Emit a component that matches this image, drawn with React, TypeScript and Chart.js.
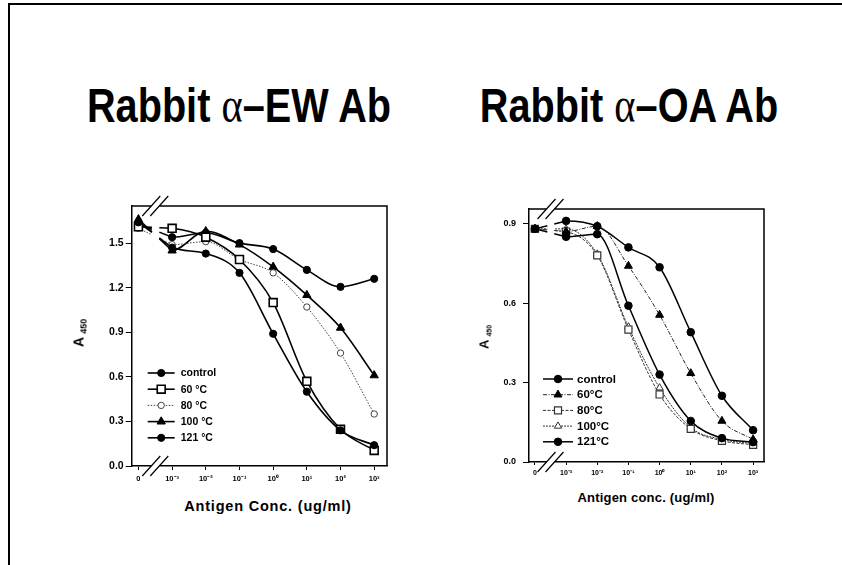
import React, { useEffect, useRef } from "react";
import { Chart, registerables } from "chart.js";
Chart.register(...registerables);

// ---------- data ----------
const xPositions = [0, 1, 2, 3, 4, 5, 6, 7];
const xTickLabels = ["0", "10⁻³", "10⁻²", "10⁻¹", "10⁰", "10¹", "10²", "10³"];

const ewNames = ["control", "60 °C", "80 °C", "100 °C", "121 °C"];
const ewControl = [1.64, 1.47, 1.43, 1.3, 0.89, 0.5, 0.24, 0.14];
const ew60 = [1.61, 1.6, 1.54, 1.39, 1.1, 0.57, 0.247, 0.105];
const ew80 = [1.6, 1.49, 1.51, 1.39, 1.3, 1.07, 0.76, 0.35];
const ew100 = [1.66, 1.45, 1.58, 1.49, 1.34, 1.15, 0.93, 0.61];
const ew121 = [1.63, 1.54, 1.57, 1.5, 1.46, 1.32, 1.206, 1.26];
const ewYTicks = [0, 0.3, 0.6, 0.9, 1.2, 1.5];

const oaNames = ["control", "60°C", "80°C", "100°C", "121°C"];
const oaControl = [0.88, 0.85, 0.86, 0.59, 0.33, 0.155, 0.09, 0.075];
const oa60 = [0.88, 0.87, 0.89, 0.74, 0.555, 0.335, 0.155, 0.085];
const oa80 = [0.88, 0.87, 0.78, 0.5, 0.255, 0.125, 0.08, 0.065];
const oa100 = [0.88, 0.88, 0.785, 0.51, 0.28, 0.13, 0.085, 0.07];
const oa121 = [0.88, 0.91, 0.89, 0.81, 0.735, 0.49, 0.25, 0.12];
const oaYTicks = [0, 0.3, 0.6, 0.9];

// ---------- styles ----------
type S = { ps: string; r: number; fill: string; stroke: string; lw: number; dash: number[]; color: string; plw: number };
const ewStyles: S[] = [
  { ps: "circle", r: 3.6, fill: "#000", stroke: "#000", lw: 1.6, dash: [], color: "#000", plw: 1 },
  { ps: "rect", r: 5.6, fill: "#fff", stroke: "#000", lw: 1.6, dash: [], color: "#000", plw: 1.6 },
  { ps: "circle", r: 3.2, fill: "#fff", stroke: "#444", lw: 1, dash: [1.5, 1.5], color: "#444", plw: 1 },
  { ps: "triangle", r: 4.8, fill: "#000", stroke: "#000", lw: 1.6, dash: [], color: "#000", plw: 1 },
  { ps: "circle", r: 3.6, fill: "#000", stroke: "#000", lw: 1.6, dash: [], color: "#000", plw: 1 },
];
const oaStyles: S[] = [
  { ps: "circle", r: 3.8, fill: "#000", stroke: "#000", lw: 1.5, dash: [], color: "#000", plw: 1 },
  { ps: "triangle", r: 4.6, fill: "#000", stroke: "#000", lw: 1, dash: [4, 1.5, 1, 1.5], color: "#222", plw: 1 },
  { ps: "rect", r: 5, fill: "#fff", stroke: "#333", lw: 1, dash: [3, 1.5], color: "#333", plw: 1.2 },
  { ps: "triangle", r: 4.2, fill: "#fff", stroke: "#333", lw: 1, dash: [2, 1], color: "#333", plw: 1 },
  { ps: "circle", r: 3.8, fill: "#000", stroke: "#000", lw: 1.5, dash: [], color: "#000", plw: 1 },
];

function drawMarker(ctx: CanvasRenderingContext2D, s: S, x: number, y: number) {
  ctx.save();
  ctx.setLineDash([]);
  ctx.beginPath();
  if (s.ps === "circle") ctx.arc(x, y, s.r, 0, Math.PI * 2);
  else if (s.ps === "rect") {
    const h = s.r * Math.SQRT1_2;
    ctx.rect(x - h, y - h, 2 * h, 2 * h);
  } else {
    let rad = 0;
    ctx.moveTo(x + Math.sin(rad) * s.r, y - Math.cos(rad) * s.r);
    rad += (2 * Math.PI) / 3;
    ctx.lineTo(x + Math.sin(rad) * s.r, y - Math.cos(rad) * s.r);
    rad += (2 * Math.PI) / 3;
    ctx.lineTo(x + Math.sin(rad) * s.r, y - Math.cos(rad) * s.r);
    ctx.closePath();
  }
  ctx.fillStyle = s.fill;
  ctx.fill();
  ctx.lineWidth = s.plw;
  ctx.strokeStyle = s.stroke;
  ctx.stroke();
  ctx.restore();
}

type Cfg = {
  series: number[][];
  names: string[];
  styles: S[];
  yMax: number;
  yTicks: number[];
  xMin: number;
  xMax: number;
  padTop: number;
  padRight: number;
  yAxisW: number;
  xAxisH: number;
  yFont: any;
  xFont: any;
  yTickLen: number;
  yPad: number;
  xTickLen: number;
  xPad: number;
  legend: { dx: number; dy: number; row: number; len: number; gap: number; font: string };
};

const makePlugin = (cfg: Cfg) => ({
  id: "decor",
  beforeDatasetsDraw(chart: any) {
    const ctx: CanvasRenderingContext2D = chart.ctx;
    chart.data.datasets.forEach((ds: any, i: number) => {
      const meta = chart.getDatasetMeta(i);
      const p0 = meta.data[0];
      const p1 = meta.data[1];
      const s = cfg.styles[i];
      ctx.save();
      ctx.strokeStyle = s.color;
      ctx.lineWidth = s.lw;
      ctx.setLineDash(s.dash);
      ctx.beginPath();
      ctx.moveTo(p0.x, p0.y);
      ctx.lineTo(p0.x + (p1.x - p0.x) * 0.4, p0.y + (p1.y - p0.y) * 0.4);
      ctx.moveTo(p1.x, p1.y);
      ctx.lineTo(p1.x - (p1.x - p0.x) * 0.38, p1.y - (p1.y - p0.y) * 0.38);
      ctx.stroke();
      ctx.restore();
    });
  },
  afterDraw(chart: any) {
    const ctx: CanvasRenderingContext2D = chart.ctx;
    const a = chart.chartArea;
    ctx.save();
    ctx.strokeStyle = "#000";
    ctx.lineWidth = 1.5;
    ctx.setLineDash([]);
    ctx.beginPath();
    ctx.moveTo(a.left, a.top);
    ctx.lineTo(a.right, a.top);
    ctx.lineTo(a.right, a.bottom);
    ctx.stroke();
    // axis breaks
    const px = chart.scales.x.getPixelForValue(0.5);
    [a.top, a.bottom].forEach((y: number) => {
      ctx.fillStyle = "#fff";
      ctx.fillRect(px - 4, y - 2, 8, 4);
      ctx.lineWidth = 1.2;
      ctx.beginPath();
      [-4, 4].forEach((d) => {
        ctx.moveTo(px + d - 9, y + 10);
        ctx.lineTo(px + d + 9, y - 10);
      });
      ctx.stroke();
    });
    // legend
    const L = cfg.legend;
    ctx.font = L.font;
    ctx.textBaseline = "middle";
    ctx.textAlign = "left";
    cfg.styles.forEach((s, i) => {
      const y = a.top + L.dy + i * L.row;
      const x0 = a.left + L.dx;
      ctx.save();
      ctx.strokeStyle = s.color;
      ctx.lineWidth = s.lw;
      ctx.setLineDash(s.dash);
      ctx.beginPath();
      ctx.moveTo(x0, y);
      ctx.lineTo(x0 + L.len, y);
      ctx.stroke();
      ctx.restore();
      drawMarker(ctx, s, x0 + L.len / 2, y);
      ctx.fillStyle = "#000";
      ctx.fillText(cfg.names[i], x0 + L.len + L.gap, y + 0.5);
    });
    ctx.restore();
  },
});

function buildConfig(cfg: Cfg): any {
  return {
    type: "line",
    data: {
      datasets: cfg.series.map((vals, i) => {
        const s = cfg.styles[i];
        return {
          label: cfg.names[i],
          data: xPositions.map((x, j) => ({ x, y: vals[j] })),
          borderColor: s.color,
          borderWidth: s.lw,
          borderDash: s.dash,
          pointStyle: s.ps,
          pointRadius: s.r,
          pointBackgroundColor: s.fill,
          pointBorderColor: s.stroke,
          pointBorderWidth: s.plw,
          cubicInterpolationMode: "monotone",
          fill: false,
          segment: { borderColor: (c: any) => (c.p0DataIndex === 0 ? "rgba(0,0,0,0)" : undefined) },
        };
      }),
    },
    options: {
      responsive: false,
      animation: false,
      events: [],
      layout: { padding: { top: cfg.padTop, right: cfg.padRight, left: 0, bottom: 0 } },
      plugins: { legend: { display: false }, tooltip: { enabled: false } },
      scales: {
        x: {
          type: "linear",
          min: cfg.xMin,
          max: cfg.xMax,
          afterFit: (s: any) => { s.height = cfg.xAxisH; },
          afterBuildTicks: (s: any) => { s.ticks = xPositions.map((v) => ({ value: v })); },
          ticks: {
            autoSkip: false,
            maxRotation: 0,
            padding: cfg.xPad,
            color: "#000",
            font: cfg.xFont,
            callback: (v: any) => { const k = xPositions.indexOf(Number(v)); return k >= 0 ? xTickLabels[k] : ""; },
          },
          grid: { drawOnChartArea: false, drawTicks: true, tickLength: cfg.xTickLen, color: "#000", lineWidth: 1 },
          border: { display: true, color: "#000", width: 1.5 },
        },
        y: {
          type: "linear",
          min: 0,
          max: cfg.yMax,
          afterFit: (s: any) => { s.width = cfg.yAxisW; },
          afterBuildTicks: (s: any) => { s.ticks = cfg.yTicks.map((v) => ({ value: v })); },
          ticks: {
            padding: cfg.yPad,
            color: "#000",
            font: cfg.yFont,
            callback: (v: any) => Number(v).toFixed(1),
          },
          grid: { drawOnChartArea: false, drawTicks: true, tickLength: cfg.yTickLen, color: "#000", lineWidth: 1 },
          border: { display: true, color: "#000", width: 1.5 },
        },
      },
    },
    plugins: [makePlugin(cfg)],
  };
}

const sans = "'Liberation Sans', Arial, sans-serif";

const ewCfg: Cfg = {
  series: [ewControl, ew60, ew80, ew100, ew121],
  names: ewNames,
  styles: ewStyles,
  yMax: 1.75,
  yTicks: ewYTicks,
  xMin: -0.2,
  xMax: 7.38,
  padTop: 16,
  padRight: 13,
  yAxisW: 71.7,
  xAxisH: 24,
  yFont: { family: sans, size: 10.5, weight: "bold" },
  xFont: { family: sans, size: 7.5, weight: "bold" },
  yTickLen: 6,
  yPad: 2,
  xTickLen: 4,
  xPad: 4,
  legend: { dx: 16, dy: 167, row: 16.2, len: 27, gap: 6, font: "bold 10.5px 'Liberation Sans', Arial, sans-serif" },
};

const oaCfg: Cfg = {
  series: [oaControl, oa60, oa80, oa100, oa121],
  names: oaNames,
  styles: oaStyles,
  yMax: 0.955,
  yTicks: oaYTicks,
  xMin: -0.19,
  xMax: 7.35,
  padTop: 19,
  padRight: 16,
  yAxisW: 69,
  xAxisH: 28,
  yFont: { family: sans, size: 9, weight: "bold" },
  xFont: { family: sans, size: 7, weight: "bold" },
  yTickLen: 6,
  yPad: 7,
  xTickLen: 3,
  xPad: 4,
  legend: { dx: 14, dy: 170, row: 15.7, len: 30, gap: 4, font: "bold 11.5px 'Liberation Sans', Arial, sans-serif" },
};

function ChartBox({ cfg, left, top, width, height }: { cfg: Cfg; left: number; top: number; width: number; height: number }) {
  const ref = useRef<HTMLCanvasElement | null>(null);
  useEffect(() => {
    if (!ref.current) return;
    const ch = new Chart(ref.current, buildConfig(cfg));
    return () => ch.destroy();
  }, [cfg]);
  return (
    <canvas
      ref={ref}
      width={width}
      height={height}
      style={{ position: "absolute", left, top, width, height }}
    />
  );
}

function Title({ cx, rest }: { cx: number; rest: string }) {
  return (
    <div
      style={{
        position: "absolute",
        left: cx - 250,
        top: 81,
        width: 500,
        textAlign: "center",
        fontFamily: sans,
        fontWeight: "bold",
        fontSize: 49,
        lineHeight: "49px",
        whiteSpace: "nowrap",
        color: "#000",
        transform: "scaleX(0.81)",
        transformOrigin: "50% 50%",
      }}
    >
      Rabbit{" "}
      <span style={{ fontFamily: "'Liberation Serif', serif", fontWeight: "normal", fontSize: 50 }}>α</span>
      {rest}
    </div>
  );
}

function YTitle({ cx, cy, a, sub }: { cx: number; cy: number; a: number; sub: number }) {
  return (
    <div
      style={{
        position: "absolute",
        left: cx,
        top: cy,
        transform: "translate(-50%, -50%) rotate(-90deg)",
        fontFamily: sans,
        fontWeight: "bold",
        fontSize: a,
        whiteSpace: "nowrap",
        lineHeight: 1,
        color: "#000",
      }}
    >
      A<span style={{ fontSize: sub, marginLeft: 3, verticalAlign: "-3px" }}>450</span>
    </div>
  );
}

function XTitle({ cx, cy, text, size, family, ls }: { cx: number; cy: number; text: string; size: number; family: string; ls: number }) {
  return (
    <div
      style={{
        position: "absolute",
        left: cx - 150,
        top: cy - size * 0.6,
        width: 300,
        textAlign: "center",
        fontFamily: family,
        fontWeight: "bold",
        fontSize: size,
        letterSpacing: ls,
        lineHeight: `${size * 1.2}px`,
        whiteSpace: "nowrap",
        color: "#000",
      }}
    >
      {text}
    </div>
  );
}

export default function App() {
  return (
    <div style={{ position: "absolute", left: 0, top: 0, width: 842, height: 565, background: "#fff", overflow: "hidden" }}>
      <div style={{ position: "absolute", left: 8, top: 3, width: 834, height: 2, background: "#000" }} />
      <div style={{ position: "absolute", left: 8, top: 3, width: 2, height: 562, background: "#000" }} />
      <Title cx={239} rest="–EW Ab" />
      <Title cx={629} rest="–OA Ab" />
      <ChartBox cfg={ewCfg} left={60} top={190} width={340} height={300} />
      <ChartBox cfg={oaCfg} left={460} top={190} width={320} height={300} />
      <YTitle cx={80} cy={333} a={14} sub={9} />
      <YTitle cx={485} cy={337} a={13} sub={7} />
      <XTitle cx={268} cy={507} text="Antigen Conc. (ug/ml)" size={14.5} family={sans} ls={0.8} />
      <XTitle cx={646} cy={498} text="Antigen conc. (ug/ml)" size={13} family={sans} ls={0.2} />
    </div>
  );
}
